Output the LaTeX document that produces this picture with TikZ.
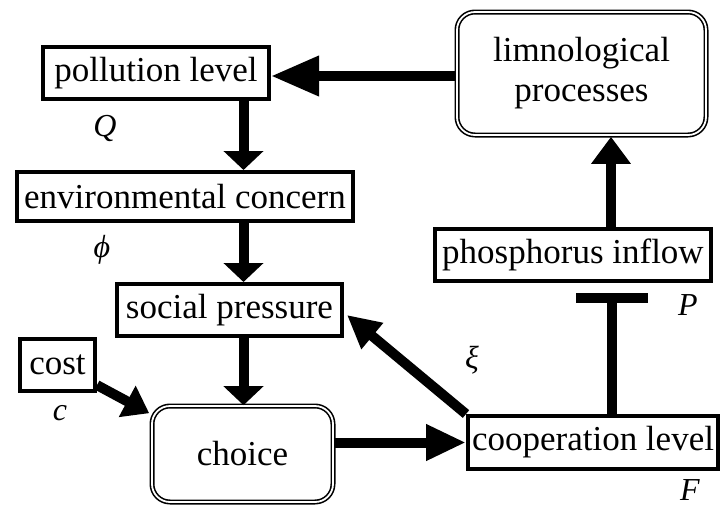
\documentclass[tikz,border=0pt]{standalone}
\usepackage{fontspec}
\setmainfont{Liberation Serif}
\usetikzlibrary{arrows.meta,calc}
\begin{document}
\begin{tikzpicture}[x=1pt,y=-1pt,
  box/.style={draw,line width=4pt,inner sep=0pt,font=\fontsize{35}{40}\selectfont},
  rbox/.style={draw,line width=1.6pt,double,double distance=1.8pt,rounded corners=18pt,inner sep=0pt,align=center,font=\fontsize{35}{40}\selectfont},
  lab/.style={font=\fontsize{32}{36}\selectfont\itshape},
  arr/.style={line width=10pt,-{Triangle[length=19pt,width=39pt]}},
]
\useasboundingbox (0,0) rectangle (721,507);
\node[box,minimum width=226pt,minimum height=52pt] (pol) at (156,73) {pollution level};
\node[box,minimum width=336pt,minimum height=49pt] (env) at (185,196.5) {environmental concern};
\node[box,minimum width=225pt,minimum height=52pt] (soc) at (229.5,310) {social pressure};
\node[box,minimum width=75pt,minimum height=52pt] (cost) at (57.5,365) {cost};
\node[rbox,minimum width=181pt,minimum height=96pt] (choice) at (242.5,454) {choice};
\node[box,minimum width=250pt,minimum height=53pt] (coop) at (593,442.5) {cooperation level};
\node[box,minimum width=276pt,minimum height=52pt] (phos) at (573,255) {phosphorus inflow};
\node[rbox,minimum width=249pt,minimum height=123pt] (lim) at (581.5,73.5) {limnological\\processes};

\node[lab] (Q) at (105,128) {Q};
\node[lab] (phi) at (102,250) {ϕ};
\node[lab] (c) at (60,413) {c};
\node[lab] (xi) at (472,360) {ξ};
\node[lab] (P) at (688,305) {P};
\node[lab] (F) at (690,490) {F};

% vertical arrows
\coordinate (a1) at ([xshift=87.5pt]pol.south);
\draw[arr] (a1) -- (a1 |- env.north);
\coordinate (a2) at ([xshift=58.5pt]env.south);
\draw[arr] (a2) -- (a2 |- soc.north);
\coordinate (a3) at ([xshift=14pt]soc.south);
\draw[arr] (a3) -- (a3 |- choice.north);
% phosphorus -> limnological
\coordinate (a4) at ([xshift=38pt]phos.north);
\draw[line width=10pt,-{Triangle[length=27pt,width=38pt]},shorten >=1pt] (a4) -- (a4 |- lim.south);
% limnological -> pollution
\coordinate (a5) at ([yshift=-3pt]pol.east);
\draw[line width=10pt,-{Triangle[length=48pt,width=38pt]}] (a5 -| lim.west) -- (a5);
% choice -> cooperation
\draw[line width=10pt,-{Triangle[length=40pt,width=34pt]}] (choice.east |- coop.west) -- (coop.west);
% cooperation -> social pressure
\coordinate (a6) at ([shift={(3pt,-5pt)}]soc.east);
\draw[line width=10pt,-{Triangle[length=33pt,width=32pt]}] (coop.north west) -- (a6);
% cost -> choice
\coordinate (a7) at ([shift={(-2pt,-8pt)}]choice.north west);
\draw[line width=10pt,-{Triangle[length=25pt,width=34pt]}] (cost.-27) -- (a7);
% cooperation -| phosphorus (inhibition)
\coordinate (a8) at ([xshift=19pt]coop.north);
\draw[line width=10pt,-{Bar[width=72pt]},shorten >=10pt] (a8) -- (a8 |- phos.south);
\end{tikzpicture}
\end{document}
